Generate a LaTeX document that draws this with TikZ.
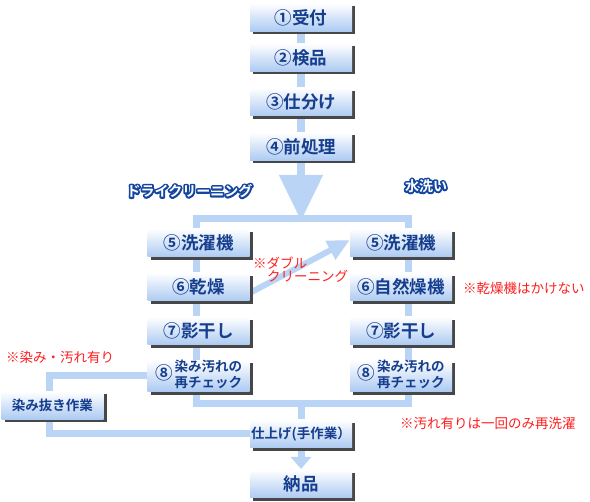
\documentclass[tikz,border=0pt]{standalone}
\usepackage{fontspec}
\setmainfont{Noto Sans CJK JP}[BoldFont={Noto Sans CJK JP Bold}]
\usepackage{tikz}
\usetikzlibrary{arrows.meta,calc,positioning,shadows,backgrounds}
\definecolor{linkblue}{RGB}{186,212,246}
\definecolor{boxblue}{RGB}{172,202,242}
\definecolor{txtblue}{RGB}{22,62,142}
\definecolor{ttlblue}{RGB}{20,70,160}
\definecolor{notered}{RGB}{255,30,30}
\newcommand{\ttltext}[1]{\rlap{\color{ttlblue}\special{pdf:literal direct 1 Tr 3.6 w 1 j}#1\special{pdf:literal direct 0 Tr 1 w 0 j}}{\color{white}#1}}
\newcommand{\recheck}{⑧\hspace{2pt}{\fontsize{13.5}{14}\selectfont\begin{tabular}{@{}l@{}}染み汚れの\\再チェック\end{tabular}}}

\begin{document}
\begin{tikzpicture}[x=1pt,y=-1pt,
  btn/.style={rectangle, minimum width=102pt, minimum height=28pt, inner sep=0pt,
    top color=white, bottom color=boxblue, text=txtblue,
    drop shadow={shadow xshift=3pt, shadow yshift=-3pt, opacity=1, fill=black!72},
    font=\fontsize{17.5}{18}\selectfont\bfseries},
  small/.style={font=\fontsize{13.5}{14}\selectfont\bfseries},
  link/.style={draw=linkblue, line width=7pt},
  note/.style={text=notered, inner sep=0pt, anchor=west, align=left,
    font=\fontsize{13.5}{13}\selectfont},
  ttl/.style={inner sep=0pt, font=\fontsize{14}{14}\selectfont\bfseries}]
\useasboundingbox (0,0) rectangle (590,502);
% main line
\node[btn] (r1) at (301,17.5) {①受付};
\node[btn] (r2) at (301,57.5) {②検品};
\node[btn] (r3) at (301,102) {③仕分け};
\node[btn] (r4) at (301,146.5) {④前処理};
% dry cleaning
\node[btn] (d5) at (198.5,243) {⑤洗濯機};
\node[btn] (d6) at (198.5,287) {⑥乾燥};
\node[btn] (d7) at (198.5,331) {⑦影干し};
\node[btn] (d8) at (198.5,376) {\recheck};
% water wash
\node[btn] (w5) at (401,243) {⑤洗濯機};
\node[btn] (w6) at (401,287) {⑥自然燥機};
\node[btn] (w7) at (401,331) {⑦影干し};
\node[btn] (w8) at (401,376) {\recheck};
% finish
\node[btn,small] (stain) at (52.5,405.5) {染み抜き作業};
\node[btn,small] (fin) at (301,434) {仕上げ(手作業）};
\node[btn] (del) at (301,484) {納品};
\coordinate (fork) at (301,221);
\coordinate (split) at (196,219);
\coordinate (merge) at (408,404);
\coordinate (dtip) at (301,469);
% titles and notes
\node[ttl] (dry) at (189.5,191) {\ttltext{ドライクリーニング}};
\node[ttl] (wash) at (426,186) {\ttltext{水洗い}};
\node[note] (n1) at (253,269.5) {※ダブル\\\hspace*{14pt}クリーニング};
\node[note] (n2) at (463,288) {※乾燥機はかけない};
\node[note] (n3) at (6,357) {※染み・汚れ有り};
\node[note] (n4) at (400,423) {※汚れ有りは一回のみ再洗濯};
\begin{scope}[on background layer]
\draw[link, line width=8pt] (r1) -- (r2) -- (r3) -- (r4);
\draw[link, line width=8pt, -{Triangle[width=42pt,length=46pt]}] (r4) -- (fork);
\draw[link] (split) rectangle (merge);
\draw[link] (fin) -- (fin |- merge);
\draw[link, -{Triangle[width=20pt,length=12pt]}] (fin) -- (dtip);
\draw[link] (d8) -| ([xshift=-3.5pt]stain.center);
\draw[link] ([xshift=-3.5pt]stain.center) |- (fin);
\draw[link, line width=6pt, -{Triangle[width=20pt,length=22pt]}] ([yshift=-6pt]d6.east) -- ([yshift=3pt]w5.west);
\end{scope}
\end{tikzpicture}
\end{document}
